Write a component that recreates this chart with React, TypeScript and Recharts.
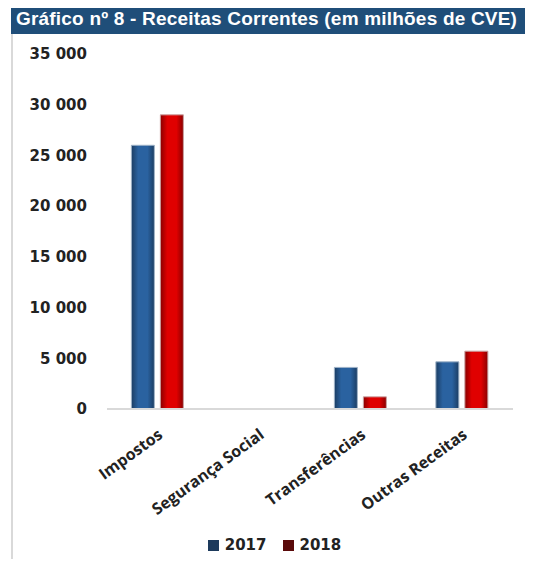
import { Bar, BarChart, Legend, XAxis, YAxis } from "recharts";

const categories = ["Impostos", "Segurança Social", "Transferências", "Outras Receitas"];
const values2017 = [26000, 0, 4100, 4650];
const values2018 = [29000, 0, 1200, 5700];
const yTicks = [0, 5000, 10000, 15000, 20000, 25000, 30000, 35000];

const data = categories.map((name, i) => ({ name, y2017: values2017[i], y2018: values2018[i] }));

const fmt = (v: number) => (v >= 1000 ? `${Math.floor(v / 1000)} ${String(v % 1000).padStart(3, "0")}` : String(v));

function CategoryTick({ x, y, payload }: any) {
  return (
    <g transform={`translate(${x - 2},${y + 9})`}>
      <text
        transform="rotate(-36)"
        textAnchor="end"
        dominantBaseline="hanging"
        fontFamily="Open Sans"
        fontWeight={700}
        fontSize={16}
        fill="#222"
      >
        {payload.value}
      </text>
    </g>
  );
}

function LegendBox() {
  const items = [
    { label: "2017", color: "#1d3a5c" },
    { label: "2018", color: "#5a0a0a" },
  ];
  return (
    <div style={{ display: "flex", justifyContent: "center", gap: 16, fontFamily: "DejaVu Sans", fontWeight: 700, fontSize: 15, color: "#222", paddingLeft: 36, paddingTop: 7 }}>
      {items.map((it) => (
        <span key={it.label} style={{ display: "flex", alignItems: "center", gap: 6 }}>
          <span style={{ width: 11, height: 11, background: it.color, display: "inline-block" }} />
          {it.label}
        </span>
      ))}
    </div>
  );
}

export default function App() {
  return (
    <div style={{ position: "relative", width: 533, height: 567, background: "#fff", margin: -8 }}>
      <div
        style={{
          position: "absolute",
          left: 11,
          top: 3,
          width: 517,
          height: 31,
          background: "#1f4e79",
          color: "#fff",
          fontFamily: "Liberation Sans",
          fontWeight: 700,
          fontSize: 19,
          letterSpacing: 0.2,
          lineHeight: "31px",
          paddingLeft: 5,
          boxSizing: "border-box",
          whiteSpace: "nowrap",
          overflow: "hidden",
        }}
      >
        Gráfico nº 8 - Receitas Correntes (em milhões de CVE)
      </div>
      <div style={{ position: "absolute", left: 11, top: 34, width: 2, height: 533, background: "#d9d9d9" }} />
      <div style={{ position: "absolute", left: 0, top: 0 }}>
        <BarChart
          width={533}
          height={567}
          data={data}
          margin={{ top: 54, right: 20, left: 0, bottom: 8 }}
          barCategoryGap="24%"
          barGap={6}
        >
          <defs>
            <linearGradient id="g2017" x1="0" y1="0" x2="1" y2="0">
              <stop offset="0%" stopColor="#1b3d63" />
              <stop offset="30%" stopColor="#2a62a0" />
              <stop offset="70%" stopColor="#2a62a0" />
              <stop offset="100%" stopColor="#1b3d63" />
            </linearGradient>
            <linearGradient id="g2018" x1="0" y1="0" x2="1" y2="0">
              <stop offset="0%" stopColor="#8a0000" />
              <stop offset="30%" stopColor="#e00000" />
              <stop offset="70%" stopColor="#e00000" />
              <stop offset="100%" stopColor="#8a0000" />
            </linearGradient>
          </defs>
          <XAxis
            dataKey="name"
            axisLine={{ stroke: "#d9d9d9", strokeWidth: 2 }}
            tickLine={false}
            interval={0}
            height={120}
            tick={<CategoryTick />}
          />
          <YAxis
            width={107}
            domain={[0, 35000]}
            ticks={yTicks}
            axisLine={false}
            tickLine={false}
            tickMargin={14}
            tickFormatter={fmt}
            tick={{ fontFamily: "DejaVu Sans", fontWeight: 700, fontSize: 15, fill: "#222" }}
          />
          <Legend verticalAlign="bottom" height={30} content={<LegendBox />} />
          <Bar dataKey="y2017" name="2017" fill="url(#g2017)" stroke="#9fb3c8" strokeWidth={1} isAnimationActive={false} />
          <Bar dataKey="y2018" name="2018" fill="url(#g2018)" stroke="#c9a0a0" strokeWidth={1} isAnimationActive={false} />
        </BarChart>
      </div>
    </div>
  );
}
